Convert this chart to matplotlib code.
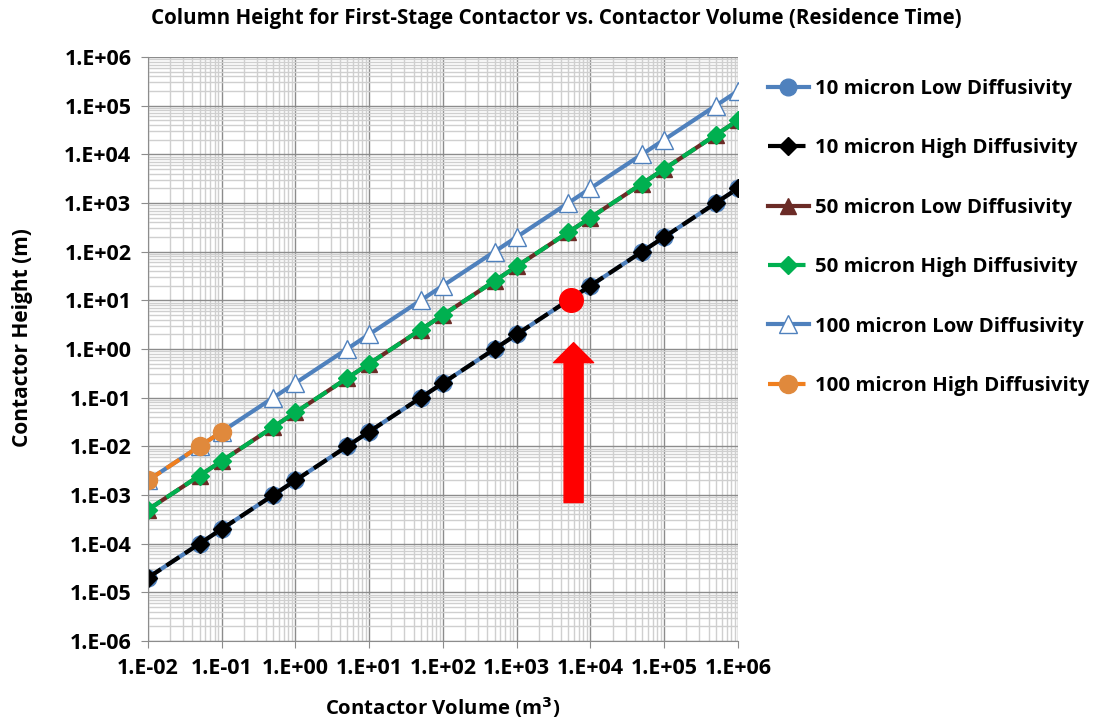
import matplotlib as mpl
mpl.use('agg')
import matplotlib.pyplot as plt
import matplotlib.ticker as mticker
import numpy as np

plt.rcParams['font.family'] = ['Open Sans', 'DejaVu Sans']
plt.rcParams['font.weight'] = 'bold'

# contactor volume (m3)
volume = [0.01, 0.05, 0.1, 0.5, 1, 5, 10, 50, 100, 500, 1000, 5000,
          10000, 50000, 1e5, 5e5, 1e6]
# contactor height (m)
h10_low = [2e-5, 1e-4, 2e-4, 1e-3, 2e-3, 1e-2, 2e-2, 0.1, 0.2, 1, 2, 10,
           20, 100, 200, 1000, 2000]
h10_high = [2e-5, 1e-4, 2e-4, 1e-3, 2e-3, 1e-2, 2e-2, 0.1, 0.2, 1, 2, 10,
            20, 100, 200, 1000, 2000]
h50_low = [5e-4, 2.5e-3, 5e-3, 2.5e-2, 5e-2, 0.25, 0.5, 2.5, 5, 25, 50, 250,
           500, 2500, 5000, 25000, 50000]
h50_high = [5e-4, 2.5e-3, 5e-3, 2.5e-2, 5e-2, 0.25, 0.5, 2.5, 5, 25, 50, 250,
            500, 2500, 5000, 25000, 50000]
h100_low = [2e-3, 1e-2, 2e-2, 0.1, 0.2, 1, 2, 10, 20, 100, 200, 1000,
            2000, 10000, 20000, 1e5, 2e5]
vol100_high = [0.01, 0.05, 0.1]
h100_high = [2e-3, 1e-2, 2e-2]

# highlighted design point and arrow
pt_x, pt_y = 5500, 10
arrow_x, arrow_y0, arrow_y1 = 5900, 7e-4, 1.35

fig = plt.figure(figsize=(10.93, 7.23), dpi=100)
ax = fig.add_axes([0.1354, 0.1134, 0.5398, 0.8078])
ax.set_xscale('log')
ax.set_yscale('log')
ax.set_xlim(1e-2, 1e6)
ax.set_ylim(1e-6, 1e6)

ax.grid(True, which='major', color='#8c8c8c', linewidth=1.0)
ax.grid(True, which='minor', color='#cfcfcf', linewidth=1.0)
ax.set_axisbelow(True)
ax.xaxis.set_minor_locator(mticker.LogLocator(base=10, subs=np.arange(2, 10), numticks=100))
ax.yaxis.set_minor_locator(mticker.LogLocator(base=10, subs=np.arange(2, 10), numticks=100))
ax.xaxis.set_major_locator(mticker.LogLocator(base=10, numticks=100))
ax.yaxis.set_major_locator(mticker.LogLocator(base=10, numticks=100))

fmt = mticker.FuncFormatter(lambda v, p: "1.E%+03d" % int(round(np.log10(v))))
ax.xaxis.set_major_formatter(fmt)
ax.yaxis.set_major_formatter(fmt)
ax.tick_params(which='minor', length=0)
ax.tick_params(which='major', length=5, color='#8c8c8c', labelsize=15.5, direction='out', pad=7)
for s in ['top', 'right']:
    ax.spines[s].set_visible(False)
for s in ['left', 'bottom']:
    ax.spines[s].set_color('#8c8c8c')

ax.plot(volume, h10_low, '-o', color='#4F81BD', lw=3, ms=12, mfc='#4F81BD', mec='#4F81BD',
        label='10 micron Low Diffusivity')
ax.plot(volume, h10_high, '--D', color='black', lw=3, ms=9.5, mfc='black', mec='black',
        label='10 micron High Diffusivity')
ax.plot(volume, h50_low, '-^', color='#6B2B26', lw=3, ms=11, mfc='#6B2B26', mec='#6B2B26',
        label='50 micron Low Diffusivity')
ax.plot(volume, h50_high, '--D', color='#00B050', lw=3, ms=9, mfc='#00B050', mec='#00B050',
        label='50 micron High Diffusivity')
ax.plot(volume, h100_low, '-^', color='#4F81BD', lw=3, ms=13, mfc='white', mec='#4F81BD',
        label='100 micron Low Diffusivity')
ax.plot(vol100_high, h100_high, '--o', color='#F07F1E', lw=3, ms=13, mfc='#E0893C', mec='#E0893C',
        label='100 micron High Diffusivity')

ax.plot([pt_x], [pt_y], 'o', color='#FF0000', ms=17, zorder=5)
ax.annotate('', xy=(arrow_x, arrow_y1), xytext=(arrow_x, arrow_y0),
            arrowprops=dict(arrowstyle='simple,head_length=14.4,head_width=28.8,tail_width=13.7',
                            color='#FF0000', shrinkA=0, shrinkB=0, mutation_scale=1), zorder=5)

ax.legend(loc='upper left', bbox_to_anchor=(0.695, 0.902), bbox_transform=fig.transFigure,
          frameon=False, fontsize=14.7, handlelength=2.0, handletextpad=0.3,
          labelspacing=1.93, borderaxespad=0)

fig.text(0.509, 0.975, 'Column Height for First-Stage Contactor vs. Contactor Volume (Residence Time)',
         ha='center', va='center', fontsize=14.8, fontweight='bold')
ax.set_xlabel('Contactor Volume (m$\\mathbf{^3}$)', fontsize=14.7, fontweight='bold')
ax.set_ylabel('Contactor Height (m)', fontsize=15, fontweight='bold')
ax.xaxis.set_label_coords(0.5, -0.0925)
ax.yaxis.set_label_coords(-0.195, 0.519)

fig.savefig('out.png', dpi=100)
